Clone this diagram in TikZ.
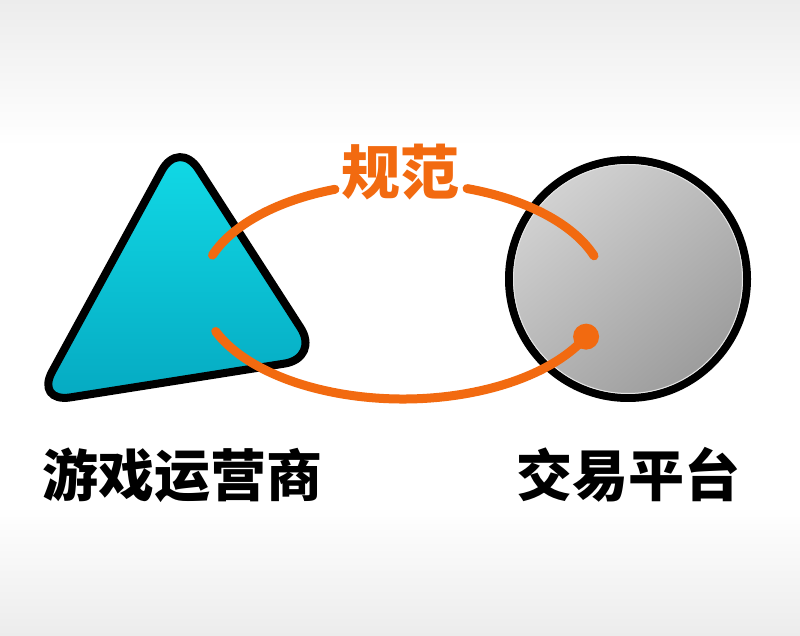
\documentclass[tikz,border=0pt]{standalone}
\usepackage{fontspec}
\newfontfamily\cjk{Noto Sans CJK SC}
\definecolor{bgGray}{HTML}{ECECEC}
\definecolor{triTop}{HTML}{12DCE8}
\definecolor{triBot}{HTML}{05A9C1}
\definecolor{discTop}{HTML}{D2D2D2}
\definecolor{discBot}{HTML}{9C9C9C}
\definecolor{linkOrange}{HTML}{F26A10}

\begin{document}
\begin{tikzpicture}[
		x=1pt,y=1pt,
		tri/.style={line width=8pt,line join=round,rounded corners=36pt,
			top color=triTop,bottom color=triBot},
		disc/.style={line width=8pt,shading=axis,top color=discTop,
			bottom color=discBot,shading angle=40},
		link/.style={line width=9pt,linkOrange,line cap=round},
		lab/.style={font={\cjk\bfseries\fontsize{56}{60}\selectfont},inner sep=0pt}
		]
		% ===== Parameters =====
		\def\ex{403}   % ellipse centre x
		\def\ey{345}   % ellipse centre y
		\def\ea{202}   % ellipse x radius
		\def\eb{108}   % ellipse y radius
		% ===== Background =====
		\useasboundingbox (0,0) rectangle (800,636);
		\shade[top color=bgGray,bottom color=white] (0,490) rectangle (800,636);
		\fill[white] (0,130) rectangle (800,490);
		\shade[top color=white,bottom color=bgGray] (0,0) rectangle (800,130);
		% ===== Game operator (triangle) =====
		\draw[tri] (179,497) -- (35,233) -- (320,278) -- cycle;
		% ===== Trading platform (disc) =====
		\coordinate (disc) at (628,357);
		\draw[disc] (disc) circle (119);
		\draw[white!80!gray,line width=1pt] (disc) circle (114.5);
		% ===== Rule loop =====
		\coordinate (ell) at (\ex,\ey);
		\draw[link] (ell) ++(160.6:{\ea} and {\eb})
		arc[start angle=160.6,end angle=109.7,x radius=\ea,y radius=\eb];
		\draw[link] (ell) ++(71.5:{\ea} and {\eb})
		arc[start angle=71.5,end angle=19,x radius=\ea,y radius=\eb];
		\draw[link] (ell) ++(202:{\ea} and {\eb})
		arc[start angle=202,end angle=335,x radius=\ea,y radius=\eb];
		\fill[linkOrange] (ell) ++(335:{\ea} and {\eb}) circle (13);
		% ===== Labels =====
		\node[lab,linkOrange,font={\cjk\bfseries\fontsize{59}{60}\selectfont}] (rule) at (400,464) {规范};
		\node[lab] (operator) at (182,161) {游戏运营商};
		\node[lab] (platform) at (628,161) {交易平台};
	\end{tikzpicture}
\end{document}
